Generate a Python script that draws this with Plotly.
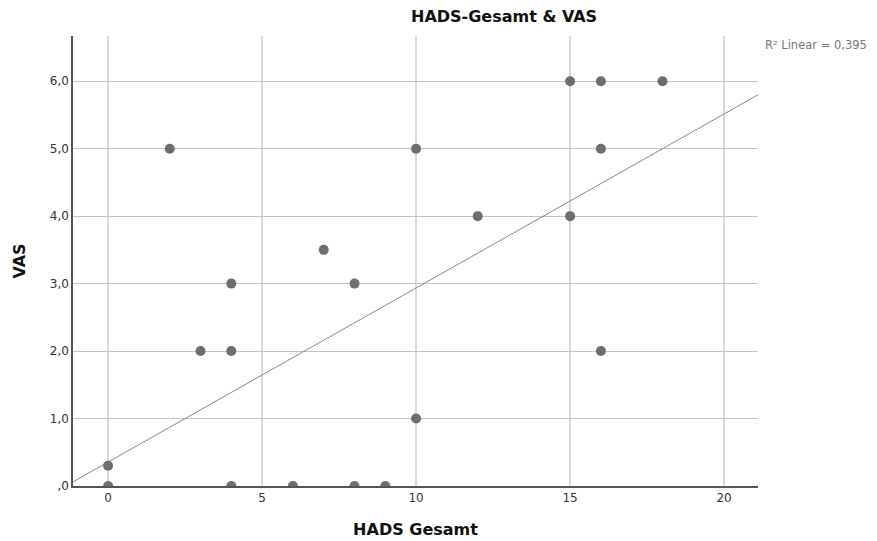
import plotly.graph_objects as go

# Data
hads = [0, 0, 2, 3, 4, 4, 4, 6, 7, 8, 8, 9, 10, 10, 12, 15, 15, 16, 16, 16, 18]
vas = [0.3, 0, 5, 2, 3, 2, 0, 0, 3.5, 3, 0, 0, 5, 1, 4, 6, 4, 6, 5, 2, 6]

# Fit line parameters
fit_intercept = 0.355
fit_slope = 0.258
r2_text = "R² Linear = 0,395"

x_ticks = [0, 5, 10, 15, 20]
y_ticks = [0, 1, 2, 3, 4, 5, 6]
y_tick_labels = [",0", "1,0", "2,0", "3,0", "4,0", "5,0", "6,0"]

x_range = [-1.14, 21.1]
y_range = [0, 6.67]

fig = go.Figure()

line_x = list(x_range)
line_y = [fit_intercept + fit_slope * v for v in line_x]
fig.add_trace(go.Scatter(x=line_x, y=line_y, mode="lines",
                         line=dict(color="#8a8a8a", width=1), hoverinfo="skip",
                         showlegend=False))

fig.add_trace(go.Scatter(x=hads, y=vas, mode="markers",
                         marker=dict(color="#6e6e6e", size=10),
                         showlegend=False, cliponaxis=True))

font_family = "DejaVu Sans, Open Sans, sans-serif"

fig.update_layout(
    width=877, height=541,
    margin=dict(l=73, r=119, t=36, b=55),
    paper_bgcolor="white", plot_bgcolor="white",
    font=dict(family=font_family, color="#222"),
    xaxis=dict(range=x_range, tickvals=x_ticks, ticktext=[str(t) for t in x_ticks],
               showgrid=True, gridcolor="#dadada", gridwidth=2,
               showline=True, linecolor="#555", linewidth=1.5,
               zeroline=False, ticks="", tickfont=dict(size=12, color="#333"),
               automargin=False,
               title=dict(text="<b>HADS Gesamt</b>", font=dict(size=16, color="#111"),
                          standoff=20)),
    yaxis=dict(range=y_range, tickvals=y_ticks, ticktext=y_tick_labels,
               showgrid=True, gridcolor="#c4c4c4", gridwidth=1,
               showline=True, linecolor="#555", linewidth=1.5,
               zeroline=False, ticks="", tickfont=dict(size=12, color="#333"),
               automargin=False,
               title=dict(text="<b>VAS</b>", font=dict(size=16, color="#111"),
                          standoff=20)),
    annotations=[
        dict(text="<b>HADS-Gesamt & VAS</b>", xref="paper", yref="paper",
             x=(504 - 73) / (758 - 73), y=1, yanchor="bottom", yshift=8,
             xanchor="center", showarrow=False,
             font=dict(size=16, color="#111")),
        dict(text=r2_text, xref="paper", yref="paper",
             x=1, xshift=5, y=(486 - 45) / (486 - 36), xanchor="left",
             yanchor="middle", showarrow=False,
             font=dict(size=11.5, color="#777")),
    ],
)

fig.write_html("out.html")
